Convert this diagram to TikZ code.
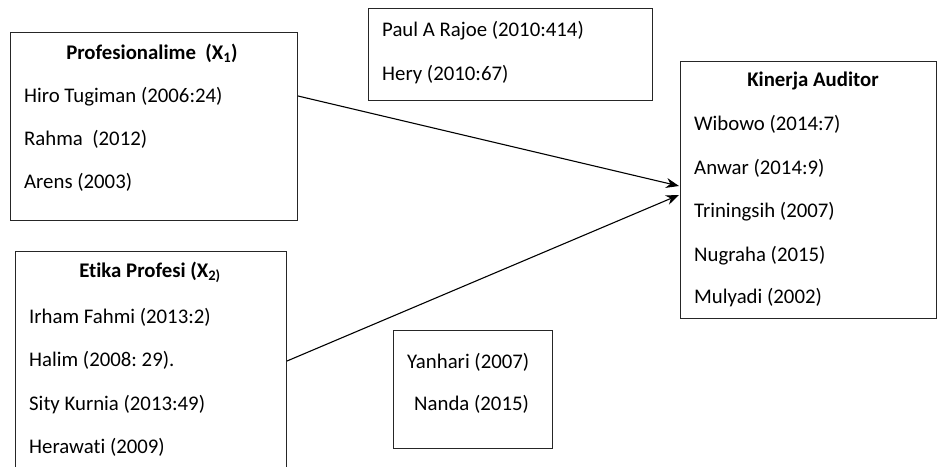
\documentclass[tikz,border=0pt]{standalone}
\usepackage{fontspec}
\setmainfont{Carlito}[Ligatures=NoCommon]
\frenchspacing
\usetikzlibrary{arrows.meta,calc}
\tikzset{
  refbox/.style={draw=black!85, line width=1pt, rectangle, anchor=north west, inner sep=0pt},
  txt/.style={anchor=base west, inner sep=0pt, font=\fontsize{20.8}{22}\selectfont},
  ttl/.style={anchor=base, inner sep=0pt, font=\fontsize{20.8}{22}\selectfont\bfseries},
  conn/.style={line width=1.1pt, -{Stealth[length=13pt,width=10pt]}}
}
\begin{document}
\begin{tikzpicture}[x=1pt,y=-1pt]
\useasboundingbox (0,0) rectangle (937,466);
\clip (0,0) rectangle (937,466);
\fill[white] (0,0) rectangle (937,466);
% boxes
\node[refbox, minimum width=287pt, minimum height=188pt] (p) at (10,32) {};
\node[refbox, minimum width=271pt, minimum height=230pt] (e) at (15,251) {};
\node[refbox, minimum width=284pt, minimum height=92pt] (r) at (368,8) {};
\node[refbox, minimum width=159pt, minimum height=118pt] (y) at (393,330) {};
\node[refbox, minimum width=256pt, minimum height=257pt] (k) at (680,61) {};
% box 1
\node[ttl] (pt) at (152,59) {Profesionalime\ \ (X\textsubscript{1})};
\node[txt] (p1) at (24,102) {Hiro Tugiman (2006:24)};
\node[txt] (p2) at (24,145) {Rahma\ \ (2012)};
\node[txt] (p3) at (24,188) {Arens (2003)};
% box 2
\node[ttl] (et) at (150,277) {Etika Profesi (X\textsubscript{2)}};
\node[txt] (e1) at (29,323) {Irham Fahmi (2013:2)};
\node[txt] (e2) at (29,366) {Halim (2008: 29).};
\node[txt] (e3) at (29,410) {Sity Kurnia (2013:49)};
\node[txt] (e4) at (29,453) {Herawati (2009)};
% box 3
\node[txt] (r1) at (382,36) {Paul A Rajoe (2010:414)};
\node[txt] (r2) at (382,80) {Hery (2010:67)};
% box 4
\node[txt] (y1) at (407,368) {Yanhari (2007)};
\node[txt] (y2) at (414,410) {Nanda (2015)};
% box 5
\node[ttl] (kt) at (813,86) {Kinerja Auditor};
\node[txt] (k1) at (694,130) {Wibowo (2014:7)};
\node[txt] (k2) at (694,174) {Anwar (2014:9)};
\node[txt] (k3) at (694,217) {Triningsih (2007)};
\node[txt] (k4) at (694,261) {Nugraha (2015)};
\node[txt] (k5) at (694,303) {Mulyadi (2002)};
% connectors
\coordinate (a1s) at ($(p.north east)+(0,64)$);
\coordinate (a1e) at ($(k.north west)+(-1,125)$);
\coordinate (a2s) at ($(e.north east)+(0,110)$);
\coordinate (a2e) at ($(k.north west)+(-1,134)$);
\draw[conn] (a1s) -- (a1e);
\draw[conn] (a2s) -- (a2e);
\end{tikzpicture}
\end{document}
